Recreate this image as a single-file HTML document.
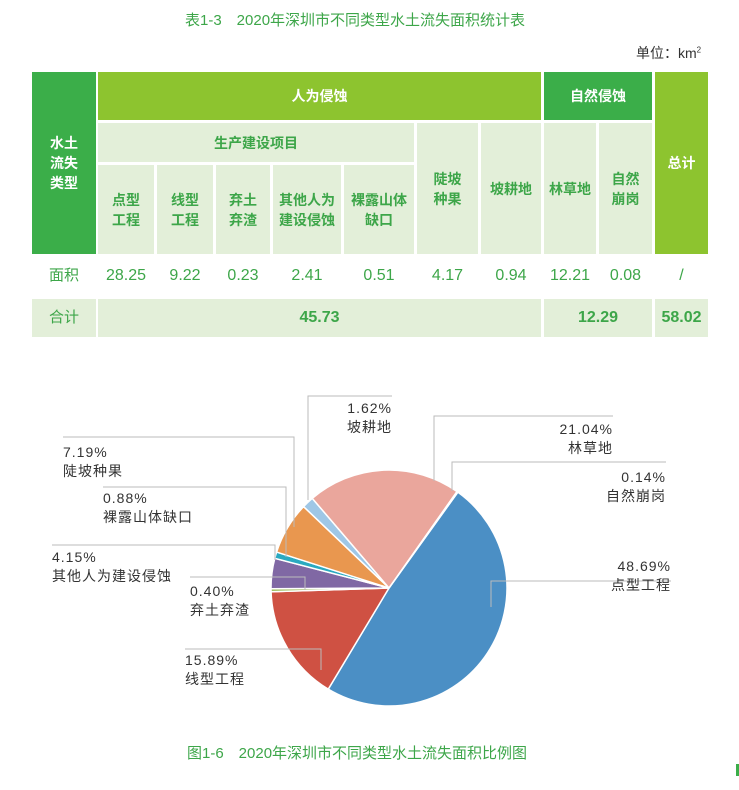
<!DOCTYPE html>
<html><head><meta charset="utf-8">
<style>
body{margin:0;background:#fff;width:739px;height:790px;position:relative;overflow:hidden;font-family:"Liberation Sans","Noto Sans CJK SC",sans-serif;}
.c{position:absolute;display:flex;align-items:center;justify-content:center;text-align:center;font-size:14px;font-weight:bold;line-height:20px;box-sizing:border-box;}
.dk{background:#3bae49;color:#fff}.lm{background:#8dc42f;color:#fff}.lt{background:#e3efd9;color:#3da649}
.w{color:#3da649;font-weight:normal;font-size:16px}
.t{position:absolute;font-size:15px;color:#3da649;}
</style></head><body>
<div class="t" style="left:185px;top:9px;">表1-3　2020年深圳市不同类型水土流失面积统计表</div>
<div class="t" style="left:636px;top:43px;color:#333;font-size:14px;">单位：km<sup style="font-size:8px">2</sup></div>
<div>
<div class="c dk" style="left:32px;top:72px;width:64px;height:182px;">水土<br>流失<br>类型</div>
<div class="c lm" style="left:98px;top:72px;width:443px;height:48px;">人为侵蚀</div>
<div class="c dk" style="left:544px;top:72px;width:108px;height:48px;">自然侵蚀</div>
<div class="c lm" style="left:655px;top:72px;width:53px;height:182px;">总计</div>
<div class="c lt" style="left:98px;top:123px;width:316px;height:39px;">生产建设项目</div>
<div class="c lt" style="left:98px;top:165px;width:56px;height:89px;">点型<br>工程</div>
<div class="c lt" style="left:157px;top:165px;width:56px;height:89px;">线型<br>工程</div>
<div class="c lt" style="left:216px;top:165px;width:54px;height:89px;">弃土<br>弃渣</div>
<div class="c lt" style="left:273px;top:165px;width:68px;height:89px;">其他人为<br>建设侵蚀</div>
<div class="c lt" style="left:344px;top:165px;width:70px;height:89px;">裸露山体<br>缺口</div>
<div class="c lt" style="left:417px;top:123px;width:61px;height:131px;">陡坡<br>种果</div>
<div class="c lt" style="left:481px;top:123px;width:60px;height:131px;">坡耕地</div>
<div class="c lt" style="left:544px;top:123px;width:52px;height:131px;">林草地</div>
<div class="c lt" style="left:599px;top:123px;width:53px;height:131px;">自然<br>崩岗</div>
<div class="c w" style="left:32px;top:256px;width:64px;height:40px;font-size:15px">面积</div>
<div class="c w" style="left:98px;top:256px;width:56px;height:40px;">28.25</div>
<div class="c w" style="left:157px;top:256px;width:56px;height:40px;">9.22</div>
<div class="c w" style="left:216px;top:256px;width:54px;height:40px;">0.23</div>
<div class="c w" style="left:273px;top:256px;width:68px;height:40px;">2.41</div>
<div class="c w" style="left:344px;top:256px;width:70px;height:40px;">0.51</div>
<div class="c w" style="left:417px;top:256px;width:61px;height:40px;">4.17</div>
<div class="c w" style="left:481px;top:256px;width:60px;height:40px;">0.94</div>
<div class="c w" style="left:544px;top:256px;width:52px;height:40px;">12.21</div>
<div class="c w" style="left:599px;top:256px;width:53px;height:40px;">0.08</div>
<div class="c w" style="left:655px;top:256px;width:53px;height:40px;">/</div>
<div class="c lt" style="left:32px;top:299px;width:64px;height:38px;font-weight:normal;font-size:15px">合计</div>
<div class="c lt" style="left:98px;top:299px;width:443px;height:38px;font-size:16px">45.73</div>
<div class="c lt" style="left:544px;top:299px;width:108px;height:38px;font-size:16px">12.29</div>
<div class="c lt" style="left:655px;top:299px;width:53px;height:38px;font-size:16px">58.02</div>
</div>
<svg id="pie" width="739" height="790" style="position:absolute;left:0;top:0"></svg>
<div class="t" style="left:187px;top:742px;">图1-6　2020年深圳市不同类型水土流失面积比例图</div>
<div style="position:absolute;left:736px;top:764px;width:3px;height:12px;background:#3bae49"></div>
<script>
const categories=["点型工程","线型工程","弃土弃渣","其他人为建设侵蚀","裸露山体缺口","陡坡种果","坡耕地","林草地","自然崩岗"];
const values=[48.69,15.89,0.40,4.15,0.88,7.19,1.62,21.04,0.14];
const colors=["#4b8fc5","#cf5143","#9bbb59","#8068a4","#2aa9c0","#e9974f","#9fc7e6","#eaa69c","#d6d98a"];
// label layout: [anchor x of text, text y1, align, line y, elbow x, elbow bottom y]
const layout=[[671,571,"end",581,491,607],[185,665,"start",649,321,670],[190,596,"start",577,305,590],[52,562,"start",545,275,560],[103,503,"start",487,286,557],[63,457,"start",437,294,527],[392,413,"end",396,308,500],[613,434,"end",416,434,481],[666,482,"end",462,452,491]];
const cx=389,cy=588,r=118,startDeg=35.7;
const svg=document.getElementById('pie');const NS="http://www.w3.org/2000/svg";
const total=values.reduce((a,b)=>a+b,0);
function pt(deg,rad){const a=(deg-90)*Math.PI/180;return [cx+rad*Math.cos(a),cy+rad*Math.sin(a)];}
let a0=startDeg;
values.forEach((v,i)=>{
 const sweep=v/total*360,a1=a0+sweep;
 const p0=pt(a0,r),p1=pt(a1,r);
 const p=document.createElementNS(NS,'path');
 p.setAttribute('d',`M${cx},${cy}L${p0[0]},${p0[1]}A${r},${r} 0 ${sweep>180?1:0} 1 ${p1[0]},${p1[1]}Z`);
 p.setAttribute('fill',colors[i]);p.setAttribute('stroke','#fff');p.setAttribute('stroke-width','1.5');
 
 
 svg.appendChild(p);
 a0=a1;
});
values.forEach((v,i)=>{
 const L=layout[i];
 const pl=document.createElementNS(NS,'polyline');
 pl.setAttribute('points',`${L[0]},${L[3]} ${L[4]},${L[3]} ${L[4]},${L[5]}`);
 pl.setAttribute('fill','none');pl.setAttribute('stroke','#bbb');pl.setAttribute('stroke-width','1');
 
 
 svg.appendChild(pl);
 [v.toFixed(2)+"%",categories[i]].forEach((s,k)=>{
  const t=document.createElementNS(NS,'text');
  t.setAttribute('x',L[0]);t.setAttribute('y',L[1]+k*19);t.setAttribute('text-anchor',L[2]);
  t.setAttribute('font-size','14');t.setAttribute('fill','#333');t.setAttribute('letter-spacing','1');
  t.setAttribute('font-family','"Liberation Sans","Noto Sans CJK SC",sans-serif');
  
  
  t.textContent=s;svg.appendChild(t);
 });
});
</script>
</body></html>
